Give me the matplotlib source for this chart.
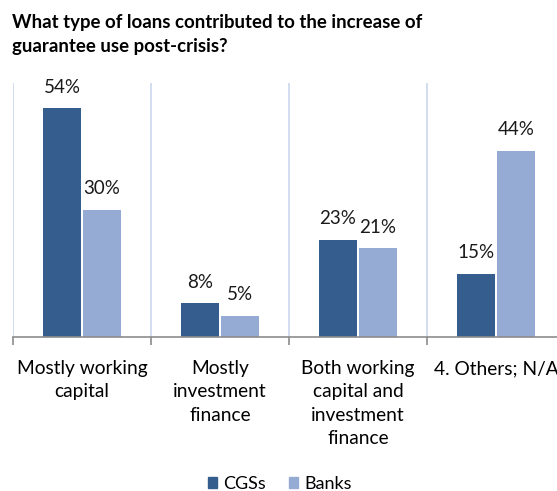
import matplotlib.pyplot as plt
from matplotlib.patches import Patch
import numpy as np

categories = ["Mostly working\ncapital", "Mostly\ninvestment\nfinance",
              "Both working\ncapital and\ninvestment\nfinance", "4. Others; N/A"]
series_names = ["CGSs", "Banks"]
cgs_values = [54, 8, 23, 15]
bank_values = [30, 5, 21, 44]

dark = "#355E8E"
light = "#95ABD3"

plt.rcParams["font.family"] = ["Lato", "DejaVu Sans"]

fig = plt.figure(figsize=(5.57, 4.91), dpi=100)
ax = fig.add_axes([13 / 557, (491 - 337) / 491, (565 - 13) / 557, (337 - 83) / 491])

x = np.arange(len(categories))
w = 0.276
off = 0.145
ax.bar(x - off, cgs_values, width=w, color=dark, zorder=3)
ax.bar(x + off, bank_values, width=w, color=light, zorder=3)

for xi, v in zip(x - off, cgs_values):
    ax.annotate(f"{v}%", (xi, v), xytext=(0, 9), textcoords="offset points",
                ha="center", va="bottom", fontsize=13.5, color="#1a1a1a")
for xi, v in zip(x + off, bank_values):
    ax.annotate(f"{v}%", (xi, v), xytext=(0, 9), textcoords="offset points",
                ha="center", va="bottom", fontsize=13.5, color="#1a1a1a")

ax.set_xlim(-0.5, len(categories) - 0.5)
ax.set_ylim(0, 60)

# category separators
for b in np.arange(-0.5, len(categories), 1.0):
    ax.axvline(b, color="#C9D7EE", lw=1.2, zorder=1)

ax.set_xticks(x)
ax.set_xticklabels(categories, fontsize=13.8, linespacing=1.45, va="top")
ax.tick_params(axis="x", length=0, pad=16.5)
ax.set_xticks(np.arange(-0.5, len(categories), 1.0), minor=True)
ax.tick_params(axis="x", which="minor", length=6, color="#8C8C8C", width=1.2)
ax.set_yticks([])
for s in ["top", "right", "left"]:
    ax.spines[s].set_visible(False)
ax.spines["bottom"].set_color("#8C8C8C")
ax.spines["bottom"].set_linewidth(1.2)
ax.spines["bottom"].set_zorder(4)

fig.text(12 / 557, 1 - 34.5 / 491, "What type of loans contributed to the increase of\nguarantee use post-crisis?",
         ha="left", va="center", fontsize=13.4, fontweight="bold", linespacing=1.5)

handles = [Patch(color=dark), Patch(color=light)]
fig.legend(handles, series_names, loc="center", bbox_to_anchor=(280 / 557, 1 - 484 / 491),
           ncol=2, frameon=False, fontsize=13, handlelength=0.5, handleheight=0.5,
           handletextpad=0.35, columnspacing=1.3)

fig.savefig("out.png", dpi=100)
